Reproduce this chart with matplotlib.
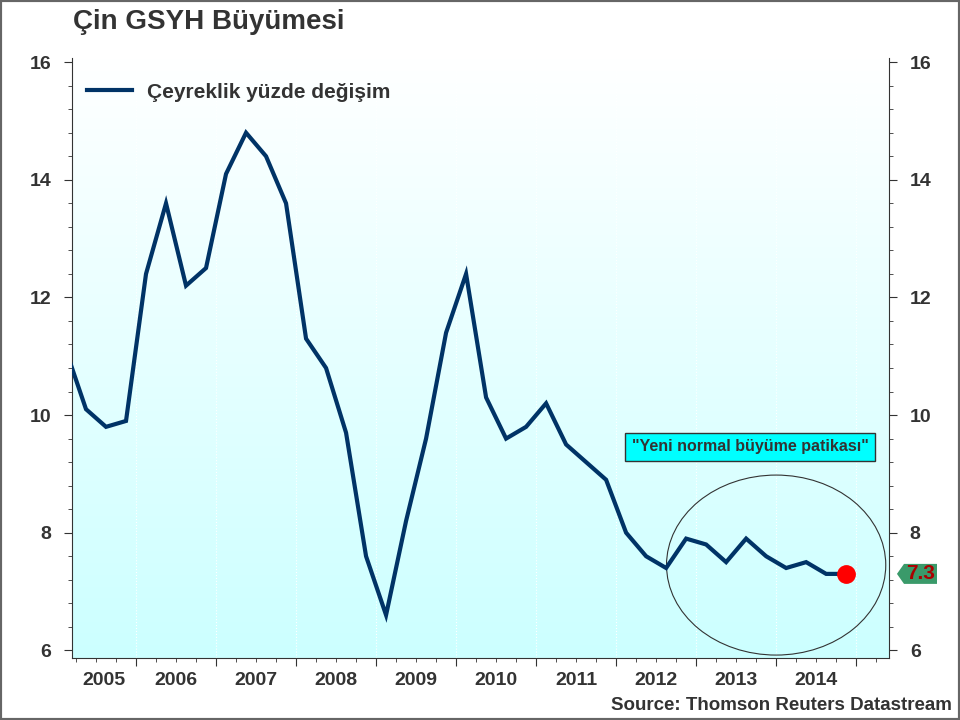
import numpy as np
import matplotlib
matplotlib.use("Agg")
import matplotlib.pyplot as plt
from matplotlib.patches import Ellipse, Polygon, Rectangle
import matplotlib.transforms as mtransforms

plt.rcParams['font.family'] = ['Liberation Sans', 'DejaVu Sans']
plt.rcParams['font.weight'] = 'bold'

# veri: ceyreklik GSYH buyumesi 2005Q1 - 2014Q4
years = [2005, 2006, 2007, 2008, 2009, 2010, 2011, 2012, 2013, 2014]
growth = [11.1, 10.1, 9.8, 9.9,
          12.4, 13.6, 12.2, 12.5,
          14.1, 14.8, 14.4, 13.6,
          11.3, 10.8, 9.7, 7.6,
          6.6, 8.2, 9.6, 11.4,
          12.4, 10.3, 9.6, 9.8,
          10.2, 9.5, 9.2, 8.9,
          8.0, 7.6, 7.4, 7.9,
          7.8, 7.5, 7.9, 7.6,
          7.4, 7.5, 7.3, 7.3]
yticks = [6, 8, 10, 12, 14, 16]

title = "Çin GSYH Büyümesi"
series_name = "Çeyreklik yüzde değişim"
note = '"Yeni normal büyüme patikası"'
source = "Source: Thomson Reuters Datastream"

txt = '#333333'
navy = '#003366'

# ceyrek ortalari
x = [y + (q + 0.5) / 4 for y in years for q in range(4)]

fig = plt.figure(figsize=(9.6, 7.2), dpi=100)
ax = fig.add_axes([0.075, 0.0861, 0.851, 0.8333])

# arka plan gradyani
grad = np.linspace(0, 1, 256).reshape(-1, 1)
cmap = matplotlib.colors.LinearSegmentedColormap.from_list('bg', ['#ccffff', '#ffffff'])
ax.imshow(grad, extent=[0, 1, 0, 1], transform=ax.transAxes, aspect='auto',
          cmap=cmap, origin='lower', zorder=0)

ax.plot(x, growth, color=navy, lw=3, zorder=3, label=series_name, solid_joinstyle='miter')
ax.plot(x[-1], growth[-1], 'o', color='red', ms=12.5, zorder=4)

# ticks
ax.set_xticks(years[1:] + [2015])
ax.set_xticks([y + q / 4 for y in years + [2015] for q in range(4)], minor=True)
ax.set_xticklabels([])
ax.set_yticks(yticks)
ax.set_yticks(np.arange(6, 16.01, 0.4), minor=True)
ax.tick_params(axis='both', which='major', length=6, color=txt, direction='out')
ax.tick_params(axis='both', which='minor', length=3, color=txt, direction='out')
ax.tick_params(axis='y', which='both', right=True, labelright=True, left=True,
               labelleft=True, labelsize=14, labelcolor=txt, pad=9)
ax.grid(axis='x', which='major', color='white', ls=':', lw=0.8, zorder=1)

xmin, xmax = 2005.2, 2015.41
ax.set_xlim(xmin, xmax)
ax.set_ylim(5.87, 16.07)

for s in ['left', 'right', 'bottom']:
    ax.spines[s].set_color(txt)
ax.spines['top'].set_visible(False)

tr = mtransforms.blended_transform_factory(ax.transData, ax.transAxes)
for y in years:
    lo = max(y, xmin)
    ax.text((lo + y + 1) / 2, -0.038, str(y), transform=tr, ha='center', va='center',
            fontsize=14, color=txt)

# elips ve not
ax.add_patch(Ellipse((2014.0, 7.45), 2.74, 3.06, fill=False, ec='#333333', lw=0.8, zorder=2))
ax.text(2013.675, 9.46, note, ha='center', va='center', fontsize=11.5, color=txt, zorder=5,
        bbox=dict(boxstyle='square,pad=0.4', fc='#00ffff', ec='#333333', lw=1))

# son deger etiketi
tr2 = mtransforms.blended_transform_factory(ax.transAxes, ax.transData)
v = growth[-1]
tag = Polygon([(1.0098, v), (1.0184, v + 0.17), (1.0588, v + 0.17),
               (1.0588, v - 0.17), (1.0184, v - 0.17)], closed=True,
              transform=tr2, fc='#3a9a6a', ec='none', clip_on=False)
ax.add_patch(tag)
ax.text(1.0386, v, f"{v}", transform=tr2, ha='center', va='center', fontsize=15,
        color='#aa0000', clip_on=False)

leg = ax.legend(loc='upper left', bbox_to_anchor=(-0.005, 0.99), frameon=False,
                fontsize=15, handlelength=2.2, handletextpad=0.7)
for t in leg.get_texts():
    t.set_color(txt)

fig.text(73 / 960, 1 - 22 / 720, title, fontsize=20, color=txt, va='center', ha='left')
fig.text(952 / 960, 1 - 706 / 720, source, fontsize=13.5, color=txt, va='center', ha='right')

fig.patches.append(Rectangle((0, 0), 1, 1, transform=fig.transFigure, fill=False,
                             ec='#666666', lw=3))

fig.savefig('out.png', dpi=100)
